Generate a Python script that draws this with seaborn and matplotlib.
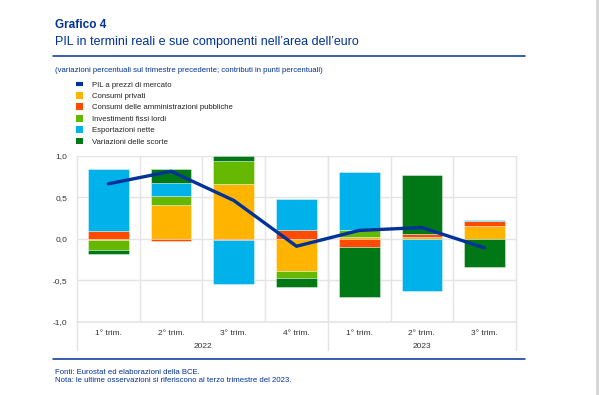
import numpy as np
import pandas as pd
import matplotlib
matplotlib.use('Agg')
import matplotlib.pyplot as plt
import seaborn as sns
from matplotlib.lines import Line2D
from matplotlib.patches import Patch
import matplotlib.transforms as mtransforms

# data (punti percentuali)
periodi = ['2022T1', '2022T2', '2022T3', '2022T4', '2023T1', '2023T2', '2023T3']
trimestri = ['1° trim.', '2° trim.', '3° trim.', '4° trim.', '1° trim.', '2° trim.', '3° trim.']
anni = ['2022', '2023']
anni_pos = [1.5, 5.0]

consumi_privati = [-0.02, 0.40, 0.66, -0.39, 0.02, 0.02, 0.155]
consumi_pa      = [0.09, -0.03, -0.02, 0.10, -0.10, 0.04, 0.06]
investimenti    = [-0.115, 0.11, 0.27, -0.085, 0.08, 0.0, 0.0]
esportazioni    = [0.75, 0.155, -0.52, 0.38, 0.70, -0.625, 0.015]
scorte          = [-0.05, 0.17, 0.065, -0.10, -0.60, 0.71, -0.345]
pil             = [0.66, 0.81, 0.46, -0.09, 0.10, 0.135, -0.11]

BLU = '#003299'
componenti = [
    ('Consumi privati', consumi_privati, '#FFB400'),
    ('Consumi delle amministrazioni pubbliche', consumi_pa, '#FF4B00'),
    ('Investimenti fissi lordi', investimenti, '#65B800'),
    ('Esportazioni nette', esportazioni, '#00B1EA'),
    ('Variazioni delle scorte', scorte, '#007816'),
]

sns.set_style('white')
plt.rcParams['font.family'] = ['Liberation Sans', 'DejaVu Sans']

fig = plt.figure(figsize=(6.0, 3.95), dpi=100)
ax = fig.add_axes([77 / 600, 73 / 395, 439 / 600, 166.5 / 395])

pos_base = np.zeros(len(periodi))
neg_base = np.zeros(len(periodi))
for nome, valori, colore in componenti:
    v = np.array(valori)
    bottom = np.where(v >= 0, pos_base, neg_base)
    df = pd.DataFrame({'periodo': periodi, 'valore': v})
    sns.barplot(data=df, x='periodo', y='valore', order=periodi, color=colore,
                width=0.65, errorbar=None, bottom=bottom, saturation=1,
                edgecolor=(1, 1, 1, 0.45), linewidth=0.6, ax=ax, zorder=2)
    pos_base = pos_base + np.where(v > 0, v, 0)
    neg_base = neg_base + np.where(v < 0, v, 0)

df_pil = pd.DataFrame({'periodo': periodi, 'pil': pil})
sns.pointplot(data=df_pil, x='periodo', y='pil', order=periodi, color=BLU,
              errorbar=None, markersize=0, linewidth=2.4, ax=ax)
for l in ax.lines:
    l.set_zorder(4)

ax.set_xlim(-0.5, 6.5)
ax.set_ylim(-1.0, 1.0)
ax.set_yticks([-1.0, -0.5, 0.0, 0.5, 1.0])
ax.set_yticklabels(['-1,0', '-0,5', '0,0', '0,5', '1,0'])
ax.set_xticks(range(len(periodi)))
ax.set_xticklabels(trimestri)
ax.tick_params(axis='both', length=0, labelsize=6, colors='#333333')
ax.tick_params(axis='x', pad=6)
ax.tick_params(axis='y', pad=7)
ax.set_xlabel('')
ax.set_ylabel('')

grid_col = '#e4e4e4'
for y in [-0.5, 0.0, 0.5, 1.0]:
    ax.axhline(y, color=grid_col, lw=1.0, zorder=0)
for x in np.arange(0.5, 6.5, 1.0):
    ax.axvline(x, color=grid_col, lw=1.0, zorder=0)
for s in ax.spines.values():
    s.set_visible(False)
ax.axhline(-1.0, color=grid_col, lw=1.2, zorder=0, clip_on=False)

# separatori anni e etichette
trans = mtransforms.blended_transform_factory(ax.transData, ax.transAxes)
for x in [-0.5, 3.5, 6.5]:
    ax.plot([x, x], [1.0, -0.17], color=grid_col, lw=1.0, transform=trans,
            clip_on=False, zorder=0)
for a, x in zip(anni, anni_pos):
    ax.text(x, -0.145, a, transform=trans, ha='center', va='center',
            fontsize=6, color='#333333')

# titoli
fig.text(55 / 600, 1 - 25 / 395, 'Grafico 4', fontsize=8.5, fontweight='bold',
         color=BLU, va='center')
fig.text(55 / 600, 1 - 42.5 / 395, 'PIL in termini reali e sue componenti nell\u2019area dell\u2019euro',
         fontsize=9, color=BLU, va='center')
fig.text(55 / 600, 1 - 70 / 395,
         '(variazioni percentuali sul trimestre precedente; contributi in punti percentuali)',
         fontsize=5.6, color=BLU, va='center')
fig.add_artist(Line2D([53 / 600, 525 / 600], [1 - 56 / 395, 1 - 56 / 395],
                      color=BLU, lw=1.1))
fig.add_artist(Line2D([53 / 600, 525 / 600], [1 - 359 / 395, 1 - 359 / 395],
                      color=BLU, lw=1.1))
fig.add_artist(Line2D([597 / 600, 597 / 600], [0, 1], color='#d4d4d4', lw=2))

# legenda
handles = [Line2D([0], [0], color=BLU, lw=3, solid_capstyle='butt')]
labels = ['PIL a prezzi di mercato']
for nome, valori, colore in componenti:
    handles.append(Patch(facecolor=colore, edgecolor='none'))
    labels.append(nome)
fig.legend(handles, labels, loc='upper left', bbox_to_anchor=(76 / 600, 1 - 80.5 / 395),
           frameon=False, fontsize=5.6, handlelength=0.95, handleheight=0.95,
           handletextpad=1.05, labelspacing=0.44, borderaxespad=0, borderpad=0,
           labelcolor='#222222')

# note
fig.text(55 / 600, 1 - 372 / 395, 'Fonti: Eurostat ed elaborazioni della BCE.',
         fontsize=5.6, color=BLU, va='center')
fig.text(55 / 600, 1 - 381 / 395,
         'Nota: le ultime osservazioni si riferiscono al terzo trimestre del 2023.',
         fontsize=5.6, color=BLU, va='center')

fig.savefig('out.png', dpi=100)
